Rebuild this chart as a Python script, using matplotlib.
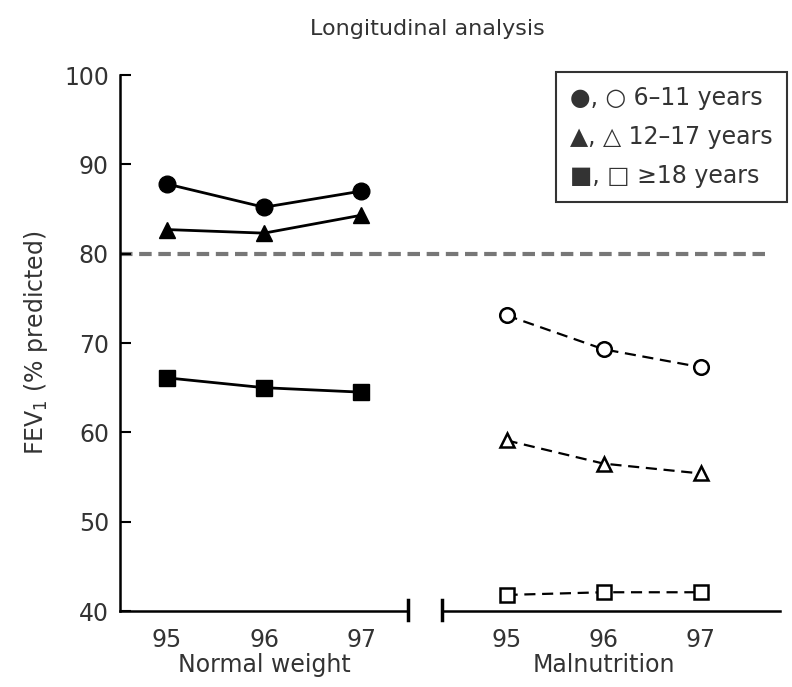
import matplotlib
matplotlib.use("Agg")
import matplotlib.pyplot as plt
import matplotlib.transforms as mtransforms
from matplotlib.lines import Line2D

# --- data ---
years = ["95", "96", "97"]
groups = ["Normal weight", "Malnutrition"]
normal_6_11 = [87.8, 85.2, 87.0]
normal_12_17 = [82.7, 82.3, 84.3]
normal_18 = [66.1, 65.0, 64.5]
maln_6_11 = [73.1, 69.3, 67.3]
maln_12_17 = [59.1, 56.5, 55.4]
maln_18 = [41.8, 42.1, 42.1]
threshold = 80
legend_labels = ["\u25CF, \u25CB 6\u201311 years",
                 "\u25B2, \u25B3 12\u201317 years",
                 "\u25A0, \u25A1 \u226518 years"]

left_x = [0, 1, 2]
right_x = [3.5, 4.5, 5.5]

plt.rcParams["font.family"] = ["DejaVu Sans"]
fig = plt.figure(figsize=(7.92, 6.87), dpi=100)
ax = fig.add_axes([0.1515, 0.1106, 0.8335, 0.7802])

txt = "#333333"
fs = 17

# normal weight: filled markers, solid lines
ax.plot(left_x, normal_6_11, "-o", color="black", lw=2, ms=12)
ax.plot(left_x, normal_12_17, "-^", color="black", lw=2, ms=12)
ax.plot(left_x, normal_18, "-s", color="black", lw=2, ms=12)

# malnutrition: open markers, dashed lines
for vals, mk in [(maln_6_11, "o"), (maln_12_17, "^"), (maln_18, "s")]:
    ax.plot(right_x, vals, linestyle=(0, (5, 3)), marker=mk, color="black",
            lw=1.6, ms=10.5, mfc="white", mew=1.8)

ax.plot([-0.48, 6.2], [threshold, threshold], linestyle=(0, (3, 1.6)),
        color="#777777", lw=3, zorder=0)

ax.set_xlim(-0.485, 6.32)
ax.set_ylim(40, 100)
ax.set_yticks(range(40, 101, 10))
ax.tick_params(axis="y", direction="in", length=8, width=1.5, labelsize=fs,
               labelcolor=txt, pad=8)
ax.set_xticks(left_x + right_x)
ax.set_xticklabels(years + years)
ax.tick_params(axis="x", length=0, labelsize=fs, labelcolor=txt, pad=12)

for s in ["top", "right", "bottom"]:
    ax.spines[s].set_visible(False)
ax.spines["left"].set_linewidth(1.8)

# broken x axis
tr = mtransforms.blended_transform_factory(ax.transData, ax.transAxes)
ax.plot([-0.485, 2.48], [0, 0], color="black", lw=1.8, transform=tr, clip_on=False)
ax.plot([2.835, 6.32], [0, 0], color="black", lw=1.8, transform=tr, clip_on=False)
for bx in [2.48, 2.835]:
    ax.plot([bx, bx], [-0.016, 0.02], color="black", lw=2.5, transform=tr, clip_on=False)

for gx, g in zip([1, 4.5], groups):
    ax.text(gx, -0.078, g, transform=tr, ha="center", va="top", fontsize=fs, color=txt)

ax.set_ylabel("FEV$_1$ (% predicted)", fontsize=fs, color=txt, labelpad=10)
fig.text(0.54, 0.958, "Longitudinal analysis", ha="center", va="center",
         fontsize=16, color=txt)

handles = [Line2D([], [], linestyle="none") for _ in legend_labels]
leg = ax.legend(handles, legend_labels, loc="upper right",
                bbox_to_anchor=(0.9937, 0.895), bbox_transform=fig.transFigure,
                borderaxespad=0, handlelength=0, handletextpad=0, fontsize=fs,
                frameon=True, fancybox=False, edgecolor="black", borderpad=0.6,
                labelspacing=0.62)
leg.get_frame().set_linewidth(1.5)
for t in leg.get_texts():
    t.set_color(txt)

fig.savefig("out.png", dpi=100, facecolor="white")
